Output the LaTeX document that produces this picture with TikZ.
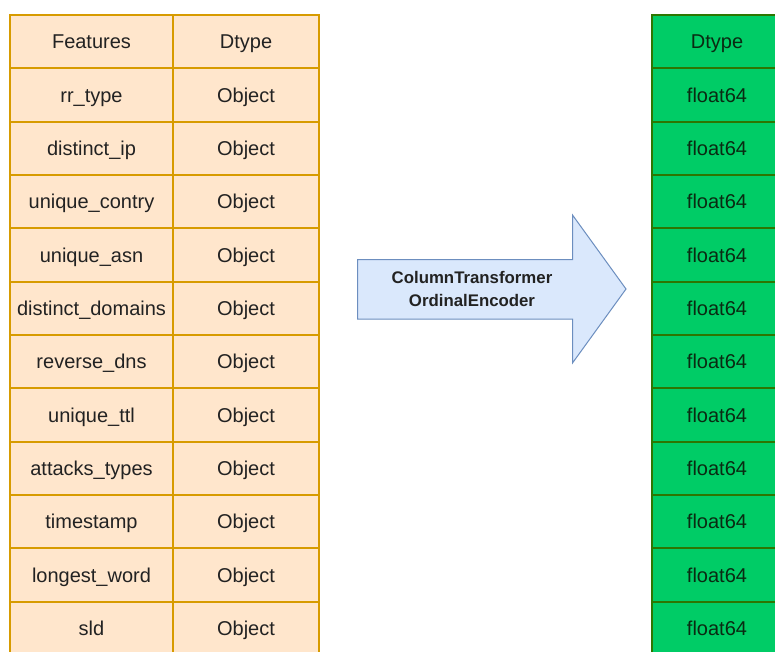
\documentclass[tikz,border=0pt]{standalone}
\usepackage{fontspec}
\setmainfont{Liberation Sans}
\definecolor{objfill}{HTML}{FFE6CC}
\definecolor{objline}{HTML}{D79B00}
\definecolor{fltfill}{HTML}{00CC66}
\definecolor{fltline}{HTML}{2D7600}
\definecolor{arrfill}{HTML}{DAE8FC}
\definecolor{arrline}{HTML}{6C8EBF}
\definecolor{txt}{HTML}{222222}
\definecolor{flttxt}{HTML}{0A2A12}
\begin{document}
\begin{tikzpicture}[x=1pt,y=-1pt,
  cell/.style={draw, line width=1.8pt, inner sep=0pt, minimum height=53.33pt,
    text height=16pt, text depth=1.7pt,
    font=\fontsize{20}{24}\selectfont, text=txt},
  objcell/.style={cell, fill=objfill, draw=objline, minimum width=163pt},
  objcellb/.style={cell, fill=objfill, draw=objline, minimum width=146pt},
  fltcell/.style={cell, fill=fltfill, draw=fltline, minimum width=130pt, text=flttxt},
  arrowbody/.style={draw=arrline, fill=arrfill, line width=1pt, line join=miter},
  arrowtext/.style={font=\bfseries\fontsize{16.8}{23}\selectfont, align=center, text=txt}]
\useasboundingbox (0,0) rectangle (775,651);
\clip (0,0) rectangle (775,651);
\fill[white] (0,0) rectangle (775,651);

% left table: feature names and their dtypes
\foreach [count=\i from 0] \f/\d in {Features/Dtype, rr\_type/Object, distinct\_ip/Object,
    unique\_contry/Object, unique\_asn/Object, distinct\_domains/Object,
    reverse\_dns/Object, unique\_ttl/Object, attacks\_types/Object,
    timestamp/Object, longest\_word/Object, sld/Object}{
  \node[objcell]  (L\i) at (91.5, 15+53.33*\i+26.67) {\f};
  \node[objcellb] (R\i) at (246, 15+53.33*\i+26.67) {\d};
}

% right table: encoded dtypes
\foreach [count=\i from 0] \d in {Dtype, float64, float64, float64, float64, float64,
    float64, float64, float64, float64, float64, float64}{
  \node[fltcell] (G\i) at (717, 15+53.33*\i+26.67) {\d};
}

% transformation arrow
\draw[arrowbody] (357.5,259.5) -- (572.5,259.5) -- (572.5,215) -- (626,289)
  -- (572.5,363) -- (572.5,319) -- (357.5,319) -- cycle;
\node[arrowtext] (enc) at (472,289) {ColumnTransformer\\OrdinalEncoder};
\end{tikzpicture}
\end{document}
